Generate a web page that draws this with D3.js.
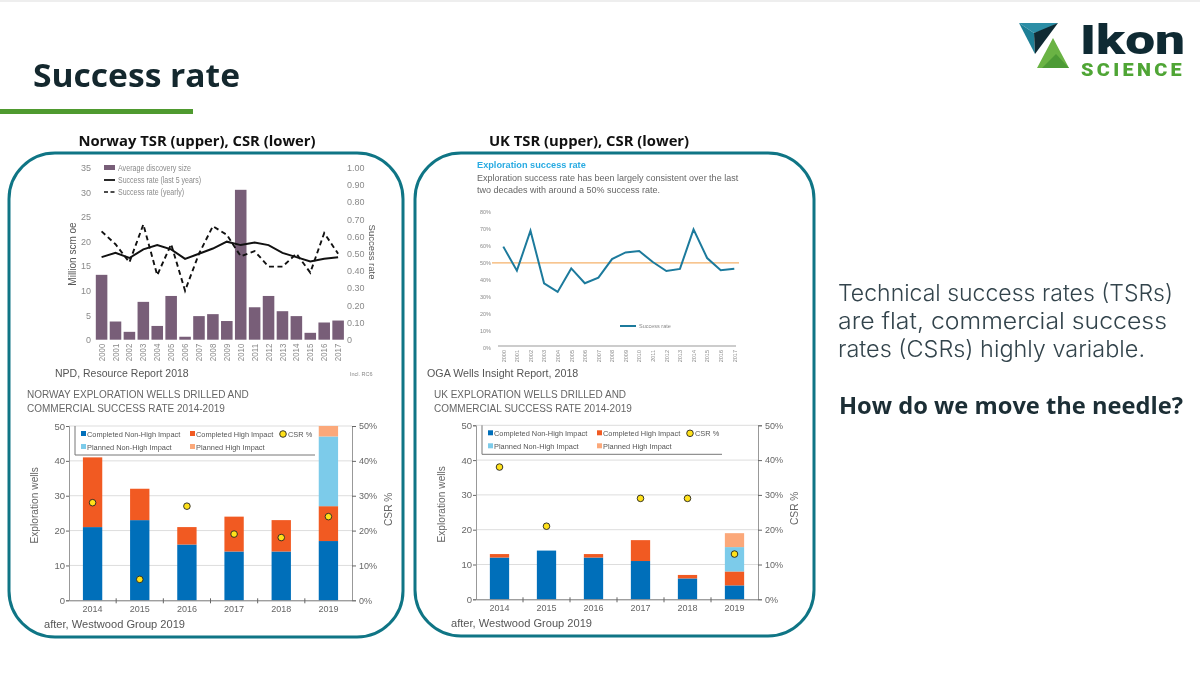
<!DOCTYPE html>
<html>
<head>
<meta charset="utf-8">
<script src="https://cdnjs.cloudflare.com/ajax/libs/d3/7.8.5/d3.min.js"></script>
<style>
  html, body { margin: 0; padding: 0; background: #fff; }
  svg { display: block; filter: blur(0.3px); }
  text { font-family: "Liberation Sans", sans-serif; }
</style>
</head>
<body>
<svg id="chart" width="1200" height="675"></svg>
<script>
// Upper charts (TSR)
const tsrYears = d3.range(2000, 2018);
const norwayDiscovery = [13.2, 3.7, 1.6, 7.7, 2.8, 8.9, 0.6, 4.8, 5.2, 3.8, 30.5, 6.6, 8.9, 5.8, 4.8, 1.4, 3.5, 3.9];
const norwayRate5yr = [0.48, 0.505, 0.475, 0.525, 0.55, 0.525, 0.47, 0.50, 0.53, 0.57, 0.55, 0.565, 0.55, 0.505, 0.48, 0.455, 0.47, 0.48];
const norwayRateYearly = [0.63, 0.555, 0.45, 0.67, 0.375, 0.555, 0.285, 0.50, 0.66, 0.61, 0.485, 0.515, 0.425, 0.425, 0.50, 0.39, 0.62, 0.50];
const ukRate = [59.5, 45.4, 68.8, 38, 32.9, 46.7, 38, 41.3, 52.2, 56.1, 56.9, 50.5, 45.2, 46.4, 69.6, 52.8, 45.6, 46.5];
const ukAverage = 50;

// Lower charts (wells and CSR)
const wellYears = [2014, 2015, 2016, 2017, 2018, 2019];
const norwayCompleted = [21, 23, 16, 14, 14, 17];
const norwayCompletedHigh = [20, 9, 5, 10, 9, 10];
const norwayPlanned = [0, 0, 0, 0, 0, 20];
const norwayPlannedHigh = [0, 0, 0, 0, 0, 3];
const norwayCsr = [28, 6, 27, 19, 18, 24];
const ukCompleted = [12, 14, 12, 11, 6, 4];
const ukCompletedHigh = [1, 0, 1, 6, 1, 4];
const ukPlanned = [0, 0, 0, 0, 0, 7];
const ukPlannedHigh = [0, 0, 0, 0, 0, 4];
const ukCsr = [38, 21, null, 29, 29, 13];

const wellColors = ["#006fba", "#f15a22", "#7ccbea", "#fba87a"];

const svg = d3.select("#chart");

function label(g, x, y, str, size, fill, opts = {}) {
    const t = g.append("text")
        .attr("x", x).attr("y", y)
        .attr("font-size", size)
        .attr("fill", fill)
        .attr("font-weight", opts.weight || 400)
        .attr("text-anchor", opts.anchor || "start")
        .style("font-family", opts.family || null)
        .attr("letter-spacing", opts.spacing || null)
        .text(str);
    // the reference uses a different face in places, fit to its width
    if (opts.squeeze) t.attr("textLength", opts.squeeze).attr("lengthAdjust", "spacingAndGlyphs");
    return t;
}

function rotatedLabel(g, x, y, str, size, fill, angle) {
    g.append("text")
        .attr("transform", `translate(${x},${y}) rotate(${angle})`)
        .attr("text-anchor", "middle")
        .attr("font-size", size)
        .attr("fill", fill)
        .text(str);
}

// Slide furniture
svg.append("rect").attr("width", 1200).attr("height", 2).attr("fill", "#eeeeee");
label(svg, 33, 87, "Success rate", 32, "#14282e", { weight: 700, family: "Open Sans", squeeze: 207 });
svg.append("rect").attr("x", 0).attr("y", 109).attr("width", 193).attr("height", 5).attr("fill", "#4f9a2f");

label(svg, 197, 146, "Norway TSR (upper), CSR (lower)", 14.8, "#111", { weight: 700, anchor: "middle", family: "Open Sans" });
label(svg, 589, 146, "UK TSR (upper), CSR (lower)", 14.8, "#111", { weight: 700, anchor: "middle", family: "Open Sans" });

svg.append("rect").attr("x", 9).attr("y", 153).attr("width", 394).attr("height", 484).attr("rx", 46)
    .attr("fill", "none").attr("stroke", "#0f7585").attr("stroke-width", 3);
svg.append("rect").attr("x", 415).attr("y", 153).attr("width", 399).attr("height", 483).attr("rx", 46)
    .attr("fill", "none").attr("stroke", "#0f7585").attr("stroke-width", 3);

// Logo
const logo = svg.append("g");
logo.append("polygon").attr("points", "1019,23 1058,23 1047,29 1034,33").attr("fill", "#2c8ea6");
logo.append("polygon").attr("points", "1019,23 1034,33 1035,54").attr("fill", "#1d7f96");
logo.append("polygon").attr("points", "1058,23 1034,33 1035,54").attr("fill", "#0f2a33");
logo.append("polygon").attr("points", "1053,38 1069,68 1037,68").attr("fill", "#6ab344");
logo.append("polygon").attr("points", "1056,54 1069,68 1042,68").attr("fill", "#4c9a35");
label(logo, 1080, 54, "Ikon", 41, "#0f2a33", { weight: 900, family: "Roboto", squeeze: 105 });
label(logo, 1081, 76, "SCIENCE", 18, "#4fa535", { weight: 900, family: "Roboto", spacing: 3, squeeze: 104 });

// Right hand text
const noteFont = "Inter";
label(svg, 838, 301, "Technical success rates (TSRs)", 23, "#33444c", { family: noteFont, weight: 300, squeeze: 335 });
label(svg, 838, 329, "are flat, commercial success", 23, "#33444c", { family: noteFont, weight: 300, squeeze: 329 });
label(svg, 838, 357, "rates (CSRs) highly variable.", 23, "#33444c", { family: noteFont, weight: 300, squeeze: 307 });
label(svg, 839, 414, "How do we move the needle?", 23.7, "#1c2e35", { weight: 700, family: "Open Sans" });

function styleAxis(g, color, size) {
    g.selectAll("text").attr("fill", color).attr("font-size", size);
    g.selectAll("line").attr("stroke", color);
    g.selectAll("path").attr("stroke", color);
}

// Norway TSR
function drawNorwayTsr() {
    const g = svg.append("g");
    const x = d3.scaleBand().domain(tsrYears).range([94.7, 345]).paddingInner(0.17).paddingOuter(0.08);
    const yLeft = d3.scaleLinear().domain([0, 35]).range([339.7, 167.7]);
    const yRight = d3.scaleLinear().domain([0, 1]).range([339.7, 167.7]);
    const mid = d => x(d) + x.bandwidth() / 2;

    g.selectAll("rect.bar").data(tsrYears).join("rect")
        .attr("class", "bar")
        .attr("x", d => x(d))
        .attr("width", x.bandwidth())
        .attr("y", (d, i) => yLeft(norwayDiscovery[i]))
        .attr("height", (d, i) => yLeft(0) - yLeft(norwayDiscovery[i]))
        .attr("fill", "#785e78");

    const line = d3.line().x((d, i) => mid(tsrYears[i])).y(d => yRight(d));
    g.append("path").datum(norwayRateYearly).attr("d", line).attr("fill", "none")
        .attr("stroke", "#111").attr("stroke-width", 1.9).attr("stroke-dasharray", "5,3.5");
    g.append("path").datum(norwayRate5yr).attr("d", line).attr("fill", "none")
        .attr("stroke", "#111").attr("stroke-width", 2);

    const left = g.append("g").attr("transform", "translate(91,0)")
        .call(d3.axisLeft(yLeft).tickValues([0, 5, 10, 15, 20, 25, 30, 35]).tickSize(0).tickPadding(0));
    left.select("path").remove();
    styleAxis(left, "#8a8a8a", 9);

    const right = g.append("g").attr("transform", "translate(347,0)")
        .call(d3.axisRight(yRight).tickValues(d3.range(0, 1.01, 0.1)).tickSize(0).tickPadding(0)
            .tickFormat(d => d === 0 ? "0" : d3.format(".2f")(d)));
    right.select("path").remove();
    styleAxis(right, "#8a8a8a", 9);

    const bottom = g.append("g").attr("transform", "translate(0,339.7)")
        .call(d3.axisBottom(x).tickSize(0).tickFormat(d3.format("d")));
    bottom.select("path").remove();
    styleAxis(bottom, "#8a8a8a", 9.5);
    bottom.selectAll("text").attr("transform", "rotate(-90)").attr("text-anchor", "end")
        .attr("x", -4).attr("y", 0).attr("dy", "0.32em")
        .attr("textLength", 17.5).attr("lengthAdjust", "spacingAndGlyphs");

    rotatedLabel(g, 76, 254, "Million scm oe", 10, "#555", -90);
    rotatedLabel(g, 369, 252, "Success rate", 9.5, "#555", 90);

    // legend
    g.append("rect").attr("x", 104).attr("y", 165).attr("width", 11).attr("height", 5).attr("fill", "#785e78");
    g.append("line").attr("x1", 104).attr("x2", 115).attr("y1", 180).attr("y2", 180).attr("stroke", "#111").attr("stroke-width", 1.8);
    g.append("line").attr("x1", 104).attr("x2", 115).attr("y1", 192).attr("y2", 192).attr("stroke", "#111").attr("stroke-width", 1.7).attr("stroke-dasharray", "4,2.5");
    label(g, 118, 171, "Average discovery size", 9, "#8a8a8a", { squeeze: 73 });
    label(g, 118, 183, "Success rate (last 5 years)", 9, "#8a8a8a", { squeeze: 83 });
    label(g, 118, 195, "Success rate (yearly)", 9, "#8a8a8a", { squeeze: 66 });

    label(g, 55, 377, "NPD, Resource Report 2018", 10.5, "#555");
    label(g, 350, 376, "Incl. RC6", 5.5, "#888");
}

// UK TSR
function drawUkTsr() {
    const g = svg.append("g");
    const x = d3.scalePoint().domain(tsrYears).range([503.3, 734.3]);
    const y = d3.scaleLinear().domain([0, 80]).range([348, 211.7]);

    label(g, 477, 168, "Exploration success rate", 9.2, "#29abe2", { weight: 700 });
    label(g, 477, 181, "Exploration success rate has been largely consistent over the last", 9, "#666");
    label(g, 477, 193, "two decades with around a 50% success rate.", 9, "#666");

    const left = g.append("g").attr("transform", "translate(491,0)")
        .call(d3.axisLeft(y).ticks(8).tickSize(0).tickPadding(0).tickFormat(d => d + "%"));
    left.select("path").remove();
    styleAxis(left, "#8a8a8a", 5.5);

    const base = g.append("g").attr("transform", "translate(0,346)")
        .call(d3.axisBottom(x).tickSize(0).tickPadding(4).tickFormat(d3.format("d")));
    base.select("path").attr("stroke", "#999").attr("stroke-width", 1).attr("d", "M498,0H736");
    base.selectAll("text").attr("fill", "#8a8a8a").attr("font-size", 5.5)
        .attr("transform", "rotate(-90)").attr("text-anchor", "end")
        .attr("x", -4).attr("y", 0).attr("dy", "0.32em");

    g.append("line").attr("x1", 492).attr("x2", 739)
        .attr("y1", y(ukAverage)).attr("y2", y(ukAverage))
        .attr("stroke", "#f5b26b").attr("stroke-width", 1.2);

    const line = d3.line().x((d, i) => x(tsrYears[i])).y(d => y(d));
    g.append("path").datum(ukRate).attr("d", line).attr("fill", "none")
        .attr("stroke", "#1c7a9c").attr("stroke-width", 2);

    g.append("line").attr("x1", 620).attr("x2", 636).attr("y1", 326).attr("y2", 326)
        .attr("stroke", "#1c7a9c").attr("stroke-width", 2);
    label(g, 639, 328, "Success rate", 5.5, "#888");

    label(g, 427, 377, "OGA Wells Insight Report, 2018", 10.7, "#555");
}

// Lower stacked bars with CSR markers
function drawWells(opts) {
    const g = svg.append("g");
    const x = d3.scaleBand().domain(wellYears).range([opts.x0, opts.x1]).paddingInner(0.59).paddingOuter(0.295);
    const y = d3.scaleLinear().domain([0, 50]).range([opts.yBase, opts.yTop]);
    const yCsr = d3.scaleLinear().domain([0, 50]).range([opts.yBase, opts.yTop]);

    label(g, opts.titleX, 398, opts.title, 10, "#666");
    label(g, opts.titleX, 412, "COMMERCIAL SUCCESS RATE 2014-2019", 10, "#666");

    // gridlines
    g.selectAll("line.grid").data([10, 20, 30, 40, 50]).join("line")
        .attr("class", "grid")
        .attr("x1", opts.x0).attr("x2", opts.x1)
        .attr("y1", d => y(d)).attr("y2", d => y(d))
        .attr("stroke", "#dddddd");

    // right hand scale line
    const right = g.append("g").attr("transform", `translate(${opts.x1},0)`)
        .call(d3.axisRight(yCsr).tickValues([0, 10, 20, 30, 40, 50]).tickSize(4).tickPadding(3).tickFormat(d => d + "%"));
    styleAxis(right, "#666", 9);
    right.select("path").attr("stroke", "#999");

    const stack = d3.stack().keys(["done", "doneHigh", "plan", "planHigh"])(
        wellYears.map((yr, i) => ({
            year: yr, done: opts.completed[i], doneHigh: opts.completedHigh[i],
            plan: opts.planned[i], planHigh: opts.plannedHigh[i]
        })));

    g.selectAll("g.layer").data(stack).join("g")
        .attr("class", "layer")
        .attr("fill", (d, i) => wellColors[i])
        .selectAll("rect").data(d => d).join("rect")
        .attr("x", d => x(d.data.year))
        .attr("width", x.bandwidth())
        .attr("y", d => y(d[1]))
        .attr("height", d => y(d[0]) - y(d[1]));

    const left = g.append("g").attr("transform", `translate(${opts.x0},0)`)
        .call(d3.axisLeft(y).tickValues([0, 10, 20, 30, 40, 50]).tickSize(3).tickPadding(1));
    styleAxis(left, "#666", 9.5);
    left.select("path").attr("stroke", "#999");

    const bottom = g.append("g").attr("transform", `translate(0,${opts.yBase})`)
        .call(d3.axisBottom(x).tickSize(0).tickPadding(5));
    styleAxis(bottom, "#666", 9);
    bottom.select("path").attr("stroke", "#777");
    // ticks between the categories
    g.selectAll("line.sep").data(wellYears.slice(1)).join("line")
        .attr("class", "sep")
        .attr("x1", d => x(d) - x.step() * 0.295).attr("x2", d => x(d) - x.step() * 0.295)
        .attr("y1", opts.yBase - 2).attr("y2", opts.yBase + 3)
        .attr("stroke", "#666");

    g.selectAll("circle.csr").data(wellYears.filter((d, i) => opts.csr[i] !== null)).join("circle")
        .attr("class", "csr")
        .attr("cx", d => x(d) + x.bandwidth() / 2)
        .attr("cy", d => yCsr(opts.csr[wellYears.indexOf(d)]))
        .attr("r", 3.3)
        .attr("fill", "#ffe11a").attr("stroke", "#222").attr("stroke-width", 0.9);

    rotatedLabel(g, opts.x0 - 31, opts.yBase - 95, "Exploration wells", 10.2, "#666", -90);
    rotatedLabel(g, opts.x1 + 40, opts.yBase - 91, "CSR %", 10.2, "#666", -90);

    // legend frame
    const lx = opts.x0 + 6;
    const top = opts.yTop;
    g.append("path").attr("d", `M${lx},${top}V${top + 29}H${lx + 240}`)
        .attr("fill", "none").attr("stroke", "#777");
    const leg = (px, py, c, t) => {
        g.append("rect").attr("x", lx + px).attr("y", top + py).attr("width", 5).attr("height", 5).attr("fill", c);
        label(g, lx + px + 6, top + py + 5.5, t, 7.4, "#555");
    };
    leg(6, 5, wellColors[0], "Completed Non-High Impact");
    leg(115, 5, wellColors[1], "Completed High Impact");
    leg(6, 18, wellColors[2], "Planned Non-High Impact");
    leg(115, 18, wellColors[3], "Planned High Impact");
    g.append("circle").attr("cx", lx + 208).attr("cy", top + 8).attr("r", 3.3)
        .attr("fill", "#ffe11a").attr("stroke", "#222").attr("stroke-width", 0.9);
    label(g, lx + 213, top + 10.5, "CSR %", 7.4, "#555");

    label(g, opts.x0 - 25, opts.yBase + 28, "after, Westwood Group 2019", 11.1, "#555");
}

drawNorwayTsr();
drawUkTsr();
drawWells({
    title: "NORWAY EXPLORATION WELLS DRILLED AND", titleX: 27,
    x0: 69, x1: 352, yBase: 600.3, yTop: 426,
    completed: norwayCompleted, completedHigh: norwayCompletedHigh,
    planned: norwayPlanned, plannedHigh: norwayPlannedHigh, csr: norwayCsr
});
drawWells({
    title: "UK EXPLORATION WELLS DRILLED AND", titleX: 434,
    x0: 476, x1: 758, yBase: 599.3, yTop: 425.3,
    completed: ukCompleted, completedHigh: ukCompletedHigh,
    planned: ukPlanned, plannedHigh: ukPlannedHigh, csr: ukCsr
});
</script>
</body>
</html>
